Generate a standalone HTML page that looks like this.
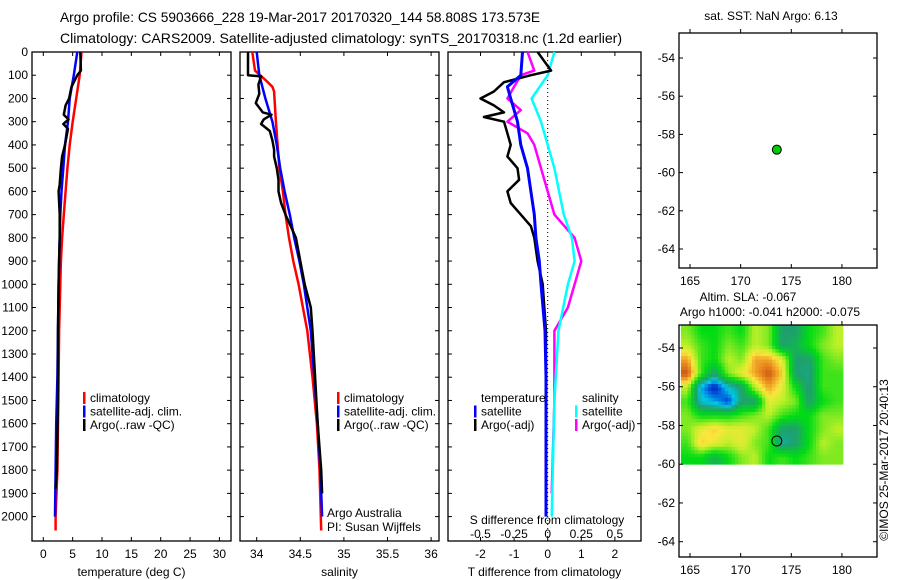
<!DOCTYPE html>
<html><head><meta charset="utf-8"><style>
body{margin:0;background:#fff}
svg{display:block;font-family:"Liberation Sans",sans-serif}
</style></head><body>
<svg id="c" width="900" height="580" viewBox="0 0 900 580">
<text x="60" y="22" font-size="14" textLength="480" lengthAdjust="spacingAndGlyphs">Argo profile: CS 5903666_228 19-Mar-2017 20170320_144 58.808S 173.573E</text>
<text x="60" y="43" font-size="14" textLength="562" lengthAdjust="spacingAndGlyphs">Climatology: CARS2009. Satellite-adjusted climatology: synTS_20170318.nc (1.2d earlier)</text>
<text x="771" y="20" font-size="12" text-anchor="middle">sat. SST: NaN Argo: 6.13</text>
<text x="748" y="301" font-size="12" text-anchor="middle">Altim. SLA: -0.067</text>
<text x="770" y="316" font-size="12" text-anchor="middle">Argo h1000: -0.041 h2000: -0.075</text>
<text transform="translate(888,460) rotate(-90)" font-size="12" text-anchor="middle">©IMOS 25-Mar-2017 20:40:13</text>
</svg>
<script>
// ---------- data ----------
const depthTicks=[0,100,200,300,400,500,600,700,800,900,1000,1100,1200,1300,1400,1500,1600,1700,1800,1900,2000];
const tempTicks=[0,5,10,15,20,25,30];
const salTicks=[34,34.5,35,35.5,36];
const tdiffTicks=[-2,-1,0,1,2];
const sdiffTicks=[-0.5,-0.25,0,0.25,0.5];
const latTicks=[-54,-56,-58,-60,-62,-64];
const lonTicks=[165,170,175,180];

const tClimDepth=[0,100,200,300,400,500,600,700,800,900,1000,1200,1400,1600,1800,2000,2060];
const tClim=[6.5,6.2,5.6,5.0,4.5,4.1,3.8,3.5,3.2,3.0,2.9,2.7,2.6,2.5,2.4,2.1,2.1];
const tSatDepth=[0,100,200,300,400,500,600,700,800,900,1000,1200,1400,1600,1800,2000];
const tSat=[5.8,5.2,4.5,4.2,3.7,3.4,3.1,2.9,2.8,2.7,2.6,2.5,2.4,2.2,2.1,2.0];
const tArgoDepth=[0,80,100,150,200,230,270,290,310,330,400,450,500,570,600,700,800,900,1000,1200,1500,1800,1880];
const tArgo=[6.3,6.4,5.8,4.8,4.4,3.8,3.5,4.3,3.4,4.2,3.7,3.2,3.0,2.8,2.6,2.8,2.8,2.7,2.6,2.5,2.5,2.3,2.1];

const sClimDepth=[0,80,120,150,170,300,400,500,600,700,800,900,1000,1100,1200,1400,1600,1800,2060];
const sClim=[33.95,33.98,34.1,34.18,34.2,34.22,34.24,34.26,34.3,34.33,34.37,34.42,34.48,34.53,34.58,34.64,34.69,34.72,34.74];
const sSatDepth=[0,100,200,300,400,500,600,700,800,900,1000,1100,1200,1400,1600,1800,2000];
const sSat=[34.0,34.03,34.1,34.18,34.23,34.27,34.32,34.38,34.43,34.49,34.54,34.58,34.62,34.66,34.7,34.73,34.75];
const sArgoDepth=[0,100,105,140,180,220,260,270,290,310,340,380,420,450,500,550,600,650,700,800,900,1000,1100,1200,1400,1600,1800,1900];
const sArgo=[33.9,33.9,34.05,34.02,34.03,33.99,34.07,34.17,34.08,34.05,34.15,34.18,34.2,34.2,34.23,34.25,34.25,34.28,34.33,34.45,34.5,34.55,34.62,34.64,34.67,34.7,34.74,34.75];

const dTSatDepth=[0,100,150,200,300,400,500,600,700,800,900,1000,1200,1400,2000];
const dTSat=[-0.75,-0.8,-1.2,-1.1,-0.9,-0.8,-0.6,-0.5,-0.4,-0.35,-0.25,-0.2,-0.08,-0.05,-0.05];
const dTArgoDepth=[0,80,100,130,170,200,230,260,280,300,350,400,450,500,550,600,650,700,750,800,900,1000,1100,1200,1900];
const dTArgo=[-0.3,0.1,-0.5,-1.3,-1.6,-2.0,-1.6,-1.3,-1.9,-1.3,-1.2,-1.1,-1.2,-0.9,-0.85,-1.2,-1.1,-0.8,-0.5,-0.4,-0.3,-0.15,-0.1,-0.05,-0.05];
const dSSatDepth=[0,100,200,300,400,500,700,800,900,1000,1200,1500,2000];
const dSSat=[0.05,0.0,-0.12,-0.05,0.0,0.05,0.12,0.18,0.2,0.15,0.08,0.05,0.03];
const dSArgoDepth=[0,80,100,150,200,250,300,350,400,500,600,700,800,900,1000,1100,1200,1500,1900];
const dSArgo=[-0.15,-0.1,-0.2,-0.25,-0.3,-0.2,-0.3,-0.15,-0.1,-0.05,0,0.05,0.2,0.25,0.2,0.15,0.05,0.05,0.03];

const floatLon=[173.57];
const floatLat=[-58.8];
const slaLonMin=164.1, slaLonMax=180.1, slaLatMax=-52.8, slaLatMin=-60;
const slaGrid=[
[0.2,0,0,0.1,0,0.3,0.2,-0.3,-0.3,0,0.1,0.3],
[0.3,0.1,0,0.2,0.1,0.3,0.2,-0.3,-0.2,0,0.2,0.3],
[0.6,0.1,0,0.3,0.2,0.6,0.6,0.4,-0.3,-0.3,0.1,0.2],
[0.8,0.1,-0.3,0.2,0.4,0.6,0.8,0.5,-0.3,-0.35,0.1,0.1],
[0.3,-0.6,-0.9,-0.5,-0.3,0.3,0.6,0.4,0,-0.35,0.1,0.1],
[0.1,-0.5,-0.6,-0.8,-0.3,-0.3,0.4,0.3,0.2,-0.3,0,0.1],
[0.2,0,0,0,0.1,0.2,0.3,0.1,0,0,0.2,0.2],
[0.2,0.4,0.5,0.4,0.4,0.3,0.1,-0.3,-0.3,0,0.2,0.3],
[0.1,0.5,0.4,0.3,0.4,0.2,0.1,-0.4,-0.3,0,0.3,0.2],
[0,0,-0.2,0,0.2,0.3,0,0.1,0,0.1,0.2,0.2]];

// ---------- drawing ----------
const svg=document.getElementById('c');
const NS='http://www.w3.org/2000/svg';
function mk(tag,attrs,parent){const e=document.createElementNS(NS,tag);for(const k in attrs)e.setAttribute(k,attrs[k]);(parent||svg).appendChild(e);return e;}
function txt(x,y,s,size,anchor,parent){const t=mk('text',{x:x,y:y,'font-size':size,'text-anchor':anchor||'start'},parent);t.textContent=s;return t;}

const Y0=52,Y1=541;
const yD=d=>52+d*0.2323;

function panel(name,x0,x1,xs,ticks,fmt,label){
  const g=mk('g',{});
  
  
  const r=mk('rect',{x:x0,y:Y0,width:x1-x0,height:Y1-Y0,fill:'none',stroke:'#000','stroke-width':1.3},g);
  
  
  ticks.forEach(v=>{const x=xs(v);
    mk('line',{x1:x,x2:x,y1:Y1,y2:Y1-4,stroke:'#000'},g);
    mk('line',{x1:x,x2:x,y1:Y0,y2:Y0+4,stroke:'#000'},g);
    const t=txt(x,558,fmt(v),12,'middle',g);
    
    
  });
  depthTicks.forEach(d=>{const y=yD(d);
    mk('line',{x1:x0,x2:x0+4,y1:y,y2:y,stroke:'#000'},g);
    mk('line',{x1:x1,x2:x1-4,y1:y,y2:y,stroke:'#000'},g);
  });
  const t=txt((x0+x1)/2,576,label,12,'middle',g);
  
  
  return g;
}
function line(g,xs,xv,dv,color,name,w){
  let p=[];
  for(let i=0;i<xv.length;i++){const x=xs(xv[i]);p.push(x.toFixed(1)+','+yD(dv[i]).toFixed(1));}
  const e=mk('polyline',{points:p.join(' '),fill:'none',stroke:color,'stroke-width':w||2.5,'stroke-linejoin':'round'},g);
  
  
}
function legend(g,x,y,items){
  items.forEach((it,i)=>{
    const yy=y+i*13.5;
    if(it[1]){mk('rect',{x:x,y:yy-10,width:2.5,height:12,fill:it[1]},g);}
    const t=txt(x+7,yy,it[0],12,'start',g);
    
    
  });
}

// depth labels
depthTicks.forEach(d=>{const t=txt(28,yD(d)+4,String(d),12,'end');
  
  });

// panel 1 temperature
const xT=v=>43.3+v*5.87;
const g1=panel('temperature-panel',32,231,xT,tempTicks,String,'temperature (deg C)');
line(g1,xT,tClim,tClimDepth,'#f00','temp-climatology-line');
line(g1,xT,tSat,tSatDepth,'#00f','temp-satellite-line');
line(g1,xT,tArgo,tArgoDepth,'#000','temp-argo-line');
legend(g1,83,402,[['climatology','#f00'],['satellite-adj. clim.','#00f'],['Argo(..raw -QC)','#000']]);

// panel 2 salinity
const xS=v=>256.7+(v-34)*87.2;
const g2=panel('salinity-panel',240,439,xS,salTicks,String,'salinity');
line(g2,xS,sClim,sClimDepth,'#f00','sal-climatology-line');
line(g2,xS,sSat,sSatDepth,'#00f','sal-satellite-line');
line(g2,xS,sArgo,sArgoDepth,'#000','sal-argo-line');
legend(g2,337,402,[['climatology','#f00'],['satellite-adj. clim.','#00f'],['Argo(..raw -QC)','#000']]);
let t=txt(327,517,'Argo Australia',12,'start',g2);
t=txt(327,531,'PI: Susan Wijffels',12,'start',g2);

// panel 3 differences
const xDT=v=>547.7+v*33.6;
const xDS=v=>547.7+v*134.4;
const g3=panel('difference-panel',448,641,xDT,tdiffTicks,String,'T difference from climatology');
mk('line',{x1:547.7,x2:547.7,y1:Y0,y2:Y1,stroke:'#000','stroke-dasharray':'1,3'},g3);
sdiffTicks.forEach(v=>{const tt=txt(xDS(v),538,String(v),12,'middle',g3);
  });
t=txt(547,524,'S difference from climatology',12,'middle',g3);
line(g3,xDS,dSArgo,dSArgoDepth,'#f0f','sdiff-argo-line');
line(g3,xDS,dSSat,dSSatDepth,'#0ff','sdiff-satellite-line');
line(g3,xDT,dTArgo,dTArgoDepth,'#000','tdiff-argo-line');
line(g3,xDT,dTSat,dTSatDepth,'#00f','tdiff-satellite-line',3);
legend(g3,474,402,[['temperature',null],['satellite','#00f'],['Argo(-adj)','#000']]);
legend(g3,575,402,[['salinity',null],['satellite','#0ff'],['Argo(-adj)','#f0f']]);
g3.querySelectorAll('text').forEach(e=>{if(e.textContent==='temperature')e.setAttribute('x',481);if(e.textContent==='salinity')e.setAttribute('x',582);});

// maps
const xLon=v=>690+(v-165)*10.13;
function mapFrame(name,y0,y1,latY){
  const g=mk('g',{});
  
  
  const r=mk('rect',{x:679,y:y0,width:198,height:y1-y0,fill:'none',stroke:'#000','stroke-width':1.3},g);
  
  latTicks.forEach(v=>{const y=latY(v);
    mk('line',{x1:679,x2:683,y1:y,y2:y,stroke:'#000'},g);
    mk('line',{x1:877,x2:873,y1:y,y2:y,stroke:'#000'},g);
    const tt=txt(675,y+4,String(v),12,'end',g);});
  lonTicks.forEach(v=>{const x=xLon(v);
    mk('line',{x1:x,x2:x,y1:y1,y2:y1-4,stroke:'#000'},g);
    mk('line',{x1:x,x2:x,y1:y0,y2:y0-4,stroke:'#000'},g);
    const tt=txt(x,y1+17,String(v),12,'middle',g);});
  return g;
}
const latY1=v=>58+(-54-v)*19.1;
const m1=mapFrame('sst-map',33,268,latY1);
const c1=mk('circle',{cx:xLon(floatLon[0]),cy:latY1(floatLat[0]),r:4.5,fill:'#0c0',stroke:'#000','stroke-width':1},m1);


const latY2=v=>348+(-54-v)*19.37;
function cmap(v){
  const stops=[[-1,[0,0,140]],[-0.75,[0,80,220]],[-0.55,[0,200,230]],[-0.3,[30,160,110]],[0,[0,220,20]],[0.3,[190,240,40]],[0.45,[250,230,60]],[0.65,[235,140,30]],[1,[150,20,0]]];
  v=Math.max(-1,Math.min(1,v));
  for(let i=1;i<stops.length;i++){if(v<=stops[i][0]){const a=stops[i-1],b=stops[i],f=(v-a[0])/(b[0]-a[0]);
    return 'rgb('+a[1].map((c,k)=>Math.round(c+(b[1][k]-c)*f)).join(',')+')';}}
  return 'rgb(150,20,0)';
}
const m2g=mk('g',{});


const nr=slaGrid.length,nc=slaGrid[0].length;
const hx0=xLon(slaLonMin),hx1=xLon(slaLonMax),hy0=latY2(slaLatMax),hy1=latY2(slaLatMin);
const SUB=4;
const cw=(hx1-hx0)/(nc*SUB),ch=(hy1-hy0)/(nr*SUB);
function sample(fi,fj){
  fi=Math.max(0,Math.min(nr-1,fi));fj=Math.max(0,Math.min(nc-1,fj));
  const i0=Math.floor(fi),j0=Math.floor(fj),i1=Math.min(nr-1,i0+1),j1=Math.min(nc-1,j0+1);
  const a=fi-i0,b=fj-j0;
  return slaGrid[i0][j0]*(1-a)*(1-b)+slaGrid[i0][j1]*(1-a)*b+slaGrid[i1][j0]*a*(1-b)+slaGrid[i1][j1]*a*b;
}
for(let i=0;i<nr*SUB;i++)for(let j=0;j<nc*SUB;j++){
  const v=sample((i+0.5)/SUB-0.5,(j+0.5)/SUB-0.5);
  const cell=mk('rect',{x:hx0+j*cw,y:hy0+i*ch,width:cw+0.4,height:ch+0.4,fill:cmap(v)},m2g);
  
  
}
const m2=mapFrame('sla-map',325,557,latY2);
const c2=mk('circle',{cx:xLon(floatLon[0]),cy:latY2(floatLat[0]),r:5,fill:'none',stroke:'#000','stroke-width':1},m2);

</script>
</body></html>
